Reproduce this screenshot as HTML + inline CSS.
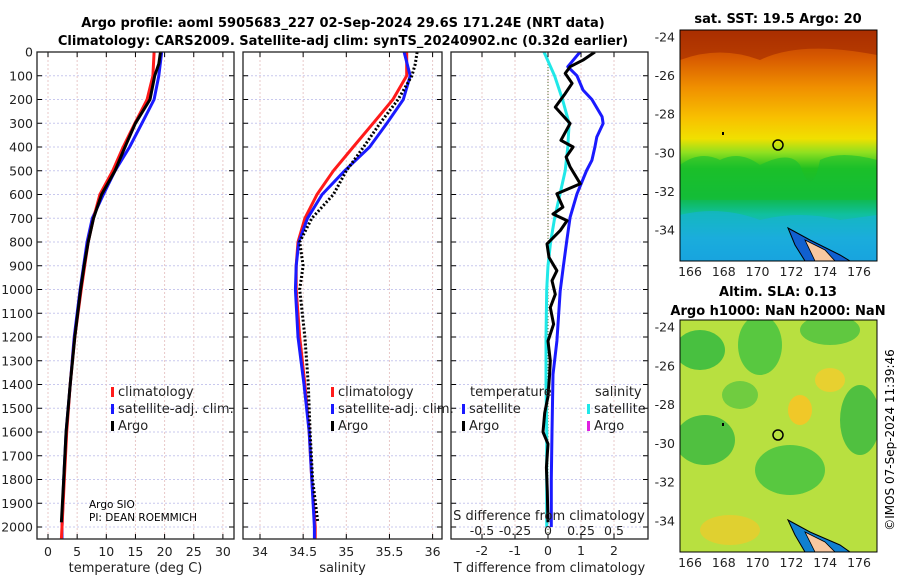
<!DOCTYPE html>
<html><head><meta charset="utf-8"><style>
body{margin:0;background:#fff}
svg{display:block;font-family:"DejaVu Sans","Liberation Sans",sans-serif}
</style></head><body>
<svg id="fig" width="900" height="580" viewBox="0 0 900 580">
<defs>
<linearGradient id="sstg" x1="0" y1="0" x2="0" y2="1">
<stop offset="0" stop-color="#b83800"/><stop offset="0.12" stop-color="#d85a00"/><stop offset="0.25" stop-color="#f09000"/>
<stop offset="0.38" stop-color="#f8c000"/><stop offset="0.47" stop-color="#f0e000"/><stop offset="0.53" stop-color="#90e020"/>
<stop offset="0.6" stop-color="#20c020"/><stop offset="0.72" stop-color="#10b840"/><stop offset="0.8" stop-color="#10c0a0"/>
<stop offset="0.9" stop-color="#20a8e0"/><stop offset="1" stop-color="#1890e8"/></linearGradient>
<clipPath id="c1"><rect x="37" y="52" width="197" height="487"/></clipPath>
<clipPath id="c2"><rect x="243" y="52" width="199" height="487"/></clipPath>
<clipPath id="c3"><rect x="451" y="52" width="197" height="487"/></clipPath>
<clipPath id="m1"><rect x="680" y="30" width="197" height="231"/></clipPath>
<clipPath id="m2"><rect x="680" y="320" width="197" height="232"/></clipPath>
</defs>
<g font-weight="bold" font-size="13" text-anchor="middle" fill="#000">
<text x="343" y="27">Argo profile: aoml 5905683_227 02-Sep-2024 29.6S 171.24E (NRT data)</text>
<text x="343" y="45">Climatology: CARS2009. Satellite-adj clim: synTS_20240902.nc (0.32d earlier)</text>
<text x="778" y="23">sat. SST: 19.5 Argo: 20</text>
<text x="778" y="296">Altim. SLA: 0.13</text>
<text x="778" y="315">Argo h1000: NaN h2000: NaN</text>
</g>
<g id="grids"></g>
<g id="lines"></g>
<g id="axes"></g>
<!-- maps -->
<g clip-path="url(#m1)">
<rect x="680" y="30" width="197" height="231" fill="url(#sstg)"/>
<path d="M680 165 Q700 150 720 160 Q740 150 760 165 Q790 150 800 165 Q812 200 820 160 Q840 150 877 160 L877 200 L680 200Z" fill="#18c030" opacity="0.6"/>
<path d="M680 215 Q720 205 760 220 Q800 210 840 220 L877 215 L877 261 L680 261Z" fill="#18b0d8" opacity="0.6"/>
<path d="M680 60 Q720 45 760 60 Q800 40 877 55 L877 30 L680 30Z" fill="#a02800" opacity="0.6"/>
<path d="M788 228 L810 240 L840 255 L850 261 L805 261 L795 245Z" fill="#1060d0" stroke="#000"/>
<path d="M805 240 L825 250 L835 261 L815 261Z" fill="#f8c8a0" stroke="#000" stroke-width="0.8"/>
<circle cx="778" cy="145" r="5" fill="none" stroke="#000" stroke-width="1.5"/>
<rect x="722" y="132" width="2" height="3" fill="#000"/>
</g>
<g clip-path="url(#m2)">
<rect x="680" y="320" width="197" height="232" fill="#b8e040"/>
<ellipse cx="700" cy="350" rx="25" ry="20" fill="#48c040"/><ellipse cx="760" cy="345" rx="22" ry="30" fill="#58c840"/>
<ellipse cx="830" cy="330" rx="30" ry="15" fill="#60c840"/><ellipse cx="705" cy="440" rx="30" ry="25" fill="#50c040"/>
<ellipse cx="790" cy="470" rx="35" ry="25" fill="#58c840"/><ellipse cx="860" cy="420" rx="20" ry="35" fill="#50c040"/>
<ellipse cx="800" cy="410" rx="12" ry="15" fill="#f0c828"/><ellipse cx="730" cy="530" rx="30" ry="15" fill="#e0d030"/>
<ellipse cx="830" cy="380" rx="15" ry="12" fill="#e8d030"/><ellipse cx="740" cy="395" rx="18" ry="14" fill="#70cc40"/>
<path d="M788 520 L810 532 L840 545 L850 552 L805 552 L795 535Z" fill="#1080d0" stroke="#000"/>
<path d="M805 532 L825 542 L835 552 L815 552Z" fill="#f8c8a0" stroke="#000" stroke-width="0.8"/>
<circle cx="778" cy="435" r="5" fill="none" stroke="#000" stroke-width="1.5"/>
<rect x="722" y="423" width="2" height="3" fill="#000"/>
</g>
<rect x="680" y="30" width="197" height="231" fill="none" stroke="#000"/>
<rect x="680" y="320" width="197" height="232" fill="none" stroke="#000"/>
<text transform="translate(894,440) rotate(-90)" font-size="12" text-anchor="middle">©IMOS 07-Sep-2024 11:39:46</text>
<g font-size="12" fill="#000">
<text x="89" y="508" font-size="10.5">Argo SIO</text>
<text x="89" y="521" font-size="10.5">PI: DEAN ROEMMICH</text>
</g>
<g id="legends" font-size="13"></g>
</svg>
<script>
const depths = [0,100,200,300,400,500,600,700,800,900,1000,1200,1400,1600,1800,2000,2050];
const tempClim = [18.2,18.0,17.0,14.9,12.9,11.1,8.9,7.8,6.9,6.3,5.7,4.6,3.8,3.2,2.8,2.4,2.3];
const tempSat = [19.5,19.0,18.2,16.1,14.0,11.5,9.5,7.6,6.7,6.1,5.5,4.5,3.8,3.1,2.7,2.4,2.4];
const argoDepths = [0,50,100,200,300,400,500,600,700,800,900,1000,1200,1400,1600,1800,1980];
const tempArgo = [19.3,19.0,18.3,17.5,15.0,13.2,11.5,9.2,7.8,6.9,6.2,5.6,4.6,3.8,3.1,2.7,2.3];
const salClim = [35.70,35.70,35.54,35.31,35.08,34.85,34.66,34.52,34.44,34.42,34.42,34.46,34.52,34.57,34.60,34.64,34.64];
const salSat = [35.67,35.74,35.66,35.47,35.27,34.98,34.72,34.55,34.45,34.42,34.41,34.44,34.51,34.57,34.60,34.63,34.63];
const salArgo = [35.82,35.80,35.76,35.60,35.39,35.20,35.00,34.85,34.60,34.46,34.50,34.46,34.52,34.56,34.58,34.61,34.67];
const diffDepthsSat = [0,62,100,160,200,273,301,358,400,456,499,597,696,794,907,1006,1217,1358,1600,1800,2000];
const tDiffSat = [0.97,0.6,0.88,1.06,1.33,1.64,1.67,1.48,1.42,1.33,1.17,0.88,0.67,0.57,0.46,0.37,0.27,0.15,0.12,0.1,0.1];
const diffDepthsArgo = [0,34,62,90,132,175,232,301,372,400,442,484,555,597,653,682,710,752,808,865,921,963,1020,1076,1146,1217,1300,1358,1450,1520,1600,1650,1750,1850,1980];
const tDiffArgo = [1.42,1.06,0.67,0.52,0.73,0.52,0.22,0.67,0.39,0.76,0.55,0.67,0.98,0.27,0.45,0.15,0.58,0.37,-0.03,0.03,0.27,0.12,0.22,0.07,0.17,0.0,0.07,0.05,0.0,-0.1,-0.15,0.0,-0.05,-0.02,0.0];
const sDiffDepths = [0,100,200,300,400,500,600,700,800,900,1000,1200,1400,1600,1800,2000];
const sDiffSat = [-0.03,0.05,0.11,0.16,0.15,0.13,0.09,0.05,0.02,0.0,-0.01,-0.015,-0.015,-0.01,-0.01,-0.01];
const depthTicks = [0,100,200,300,400,500,600,700,800,900,1000,1100,1200,1300,1400,1500,1600,1700,1800,1900,2000];
const tempTicks = [0,5,10,15,20,25,30];
const salTicks = [34,34.5,35,35.5,36];
const tDiffTicks = [-2,-1,0,1,2];
const sDiffTicks = [-0.5,-0.25,0,0.25,0.5];
const sDiffTickLabels = ['-0.5','-0.25','0','0.25','0.5'];

const NS='http://www.w3.org/2000/svg';
const yD = d => 52 + d*0.2375;
const xT = v => 48 + v*5.83;
const xS = v => 260 + (v-34)*86.3;
const xTD = v => 548 + v*33;
const xSD = v => 548 + v*132;
function mk(tag, attrs, parent){const e=document.createElementNS(NS,tag);for(const k in attrs)e.setAttribute(k,attrs[k]);parent.appendChild(e);return e;}
const G=document.getElementById('grids'),L=document.getElementById('lines'),A=document.getElementById('axes'),LG=document.getElementById('legends');
const panels=[{x0:37,x1:234,clip:'c1',ticks:tempTicks,fx:xT,lab:'temperature (deg C)',name:'temperature'},
{x0:243,x1:442,clip:'c2',ticks:salTicks,fx:xS,lab:'salinity',name:'salinity'},
{x0:451,x1:648,clip:'c3',ticks:tDiffTicks,fx:xTD,lab:'T difference from climatology',name:'difference'}];
panels.forEach(p=>{
  depthTicks.forEach(d=>{const l=mk('line',{x1:p.x0,x2:p.x1,y1:yD(d),y2:yD(d),stroke:'#c8c8ee','stroke-dasharray':'2,2'},G);
    
    
    mk('line',{x1:p.x0,x2:p.x0+5,y1:yD(d),y2:yD(d),stroke:'#000'},A);mk('line',{x1:p.x1-5,x2:p.x1,y1:yD(d),y2:yD(d),stroke:'#000'},A);});
  p.ticks.forEach(v=>{const x=p.fx(v);const l=mk('line',{x1:x,x2:x,y1:52,y2:539,stroke:'#e8c8c8','stroke-dasharray':'2,2'},G);
    
    
    mk('line',{x1:x,x2:x,y1:539,y2:534,stroke:'#000'},A);mk('line',{x1:x,x2:x,y1:52,y2:57,stroke:'#000'},A);
    const t=mk('text',{x:x,y:p.name==='difference'?555:556,'font-size':'12.5','text-anchor':'middle',fill:'#222'},A);
    
    
    t.textContent=String(v);});
  const r=mk('rect',{x:p.x0,y:52,width:p.x1-p.x0,height:487,fill:'none',stroke:'#222','stroke-width':1.3},A);
  
  
  const xl=mk('text',{x:(p.x0+p.x1)/2,y:572,'font-size':'13','text-anchor':'middle',fill:'#222'},A);
  
  
  xl.textContent=p.lab;
});
depthTicks.forEach(d=>{const t=mk('text',{x:33,y:yD(d)+4.5,'font-size':'12.5','text-anchor':'end',fill:'#222'},A);
  
  
  t.textContent=String(d);});
sDiffTicks.forEach((v,i)=>{const t=mk('text',{x:xSD(v),y:535,'font-size':'12.5','text-anchor':'middle',fill:'#222'},A);
  
  
  t.textContent=sDiffTickLabels[i];});
const st=mk('text',{x:549,y:520,'font-size':'13','text-anchor':'middle',fill:'#222'},A);


st.textContent='S difference from climatology';
// map ticks
[[30,261,'sst'],[320,552,'sla']].forEach(([y0,y1,nm])=>{
  [166,168,170,172,174,176].forEach(lon=>{const x=690+(lon-166)*16.9;
    mk('line',{x1:x,x2:x,y1:y1,y2:y1-4,stroke:'#000'},A);mk('line',{x1:x,x2:x,y1:y0,y2:y0+4,stroke:'#000'},A);
    const t=mk('text',{x:x,y:y1+15,'font-size':'12.5','text-anchor':'middle',fill:'#222'},A);
    
    
    t.textContent=String(lon);});
  [-24,-26,-28,-30,-32,-34].forEach(lat=>{const y=y0+7+(-24-lat)*(y1-y0-38)/10;
    mk('line',{x1:680,x2:684,y1:y,y2:y,stroke:'#000'},A);mk('line',{x1:877,x2:873,y1:y,y2:y,stroke:'#000'},A);
    const t=mk('text',{x:675,y:y+4.5,'font-size':'12.5','text-anchor':'end',fill:'#222'},A);
    
    
    t.textContent=String(lat);});
});
function series(ds,vs,fx,clip,color,w,dash,name){
  const pts=ds.map((d,i)=>fx(vs[i]).toFixed(1)+','+yD(d).toFixed(1)).join(' ');
  const a={points:pts,fill:'none',stroke:color,'stroke-width':w,'clip-path':'url(#'+clip+')','stroke-linejoin':'round'};
  if(dash)a['stroke-dasharray']=dash;
  const e=mk('polyline',a,L);
  
  
}
const zl=mk('line',{x1:548,x2:548,y1:52,y2:539,stroke:'#556b2f','stroke-dasharray':'1,2'},L);


series(depths,tempSat,xT,'c1','#1a1aff',3,null,'temp-satellite-line');
series(depths,tempClim,xT,'c1','#ff1a1a',3,null,'temp-climatology-line');
series(argoDepths,tempArgo,xT,'c1','#000',3,null,'temp-argo-line');
series(depths,salClim,xS,'c2','#ff1a1a',3,null,'sal-climatology-line');
series(depths,salSat,xS,'c2','#1a1aff',3,null,'sal-satellite-line');
series(argoDepths,salArgo,xS,'c2','#000',3,'2,2','sal-argo-line');
series(diffDepthsSat,tDiffSat,xTD,'c3','#1a1aff',3,null,'tdiff-satellite-line');
series(sDiffDepths,sDiffSat,xSD,'c3','#20e8e8',3,null,'sdiff-satellite-line');
series(diffDepthsArgo,tDiffArgo,xTD,'c3','#000',3,null,'tdiff-argo-line');
function leg(x,y,color,label,name){
  const b=mk('rect',{x:x,y:y-9,width:3,height:10,fill:color},LG);
  
  
  const t=mk('text',{x:x+7,y:y,fill:'#222'},LG);
  
  
  t.textContent=label;
}
leg(111,396,'#ff1a1a','climatology','legend-climatology');
leg(111,413,'#1a1aff','satellite-adj. clim.','legend-satellite-adj');
leg(111,430,'#000','Argo','legend-argo');
leg(331,396,'#ff1a1a','climatology','legend-sal-climatology');
leg(331,413,'#1a1aff','satellite-adj. clim.','legend-sal-satellite-adj');
leg(331,430,'#000','Argo','legend-sal-argo');
leg(462,413,'#1a1aff','satellite','legend-tdiff-satellite');
leg(462,430,'#000','Argo','legend-tdiff-argo');
leg(587,413,'#20e8e8','satellite','legend-sdiff-satellite');
leg(587,430,'#e020e0','Argo','legend-sdiff-argo');
const h1=mk('text',{x:470,y:396,fill:'#222'},LG);


h1.textContent='temperature';
const h2=mk('text',{x:595,y:396,fill:'#222'},LG);


h2.textContent='salinity';
</script>
</body></html>
